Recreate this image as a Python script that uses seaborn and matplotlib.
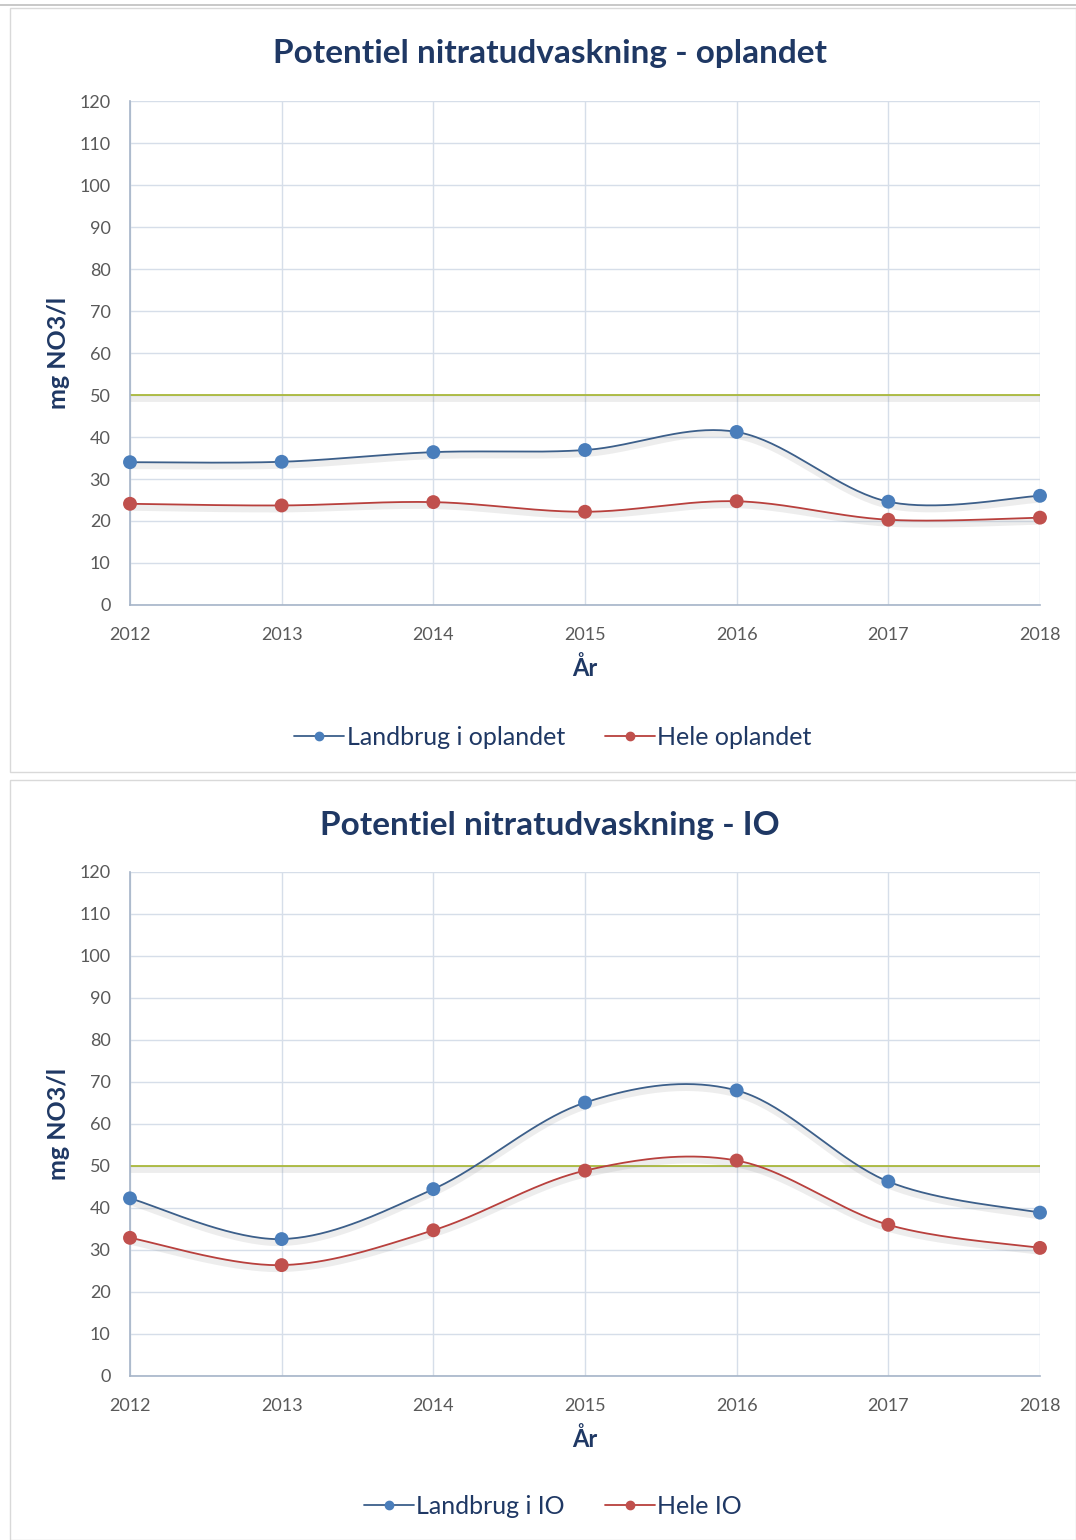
import numpy as np
import pandas as pd
import seaborn as sns
from matplotlib import pyplot as plt
from matplotlib import patheffects as pe
from matplotlib.lines import Line2D
from matplotlib.patches import Rectangle

years = [2012, 2013, 2014, 2015, 2016, 2017, 2018]

# top chart - oplandet
landbrug_opl = [34.0, 34.1, 36.4, 36.9, 41.2, 24.6, 26.0]
hele_opl = [24.1, 23.7, 24.5, 22.2, 24.7, 20.3, 20.8]

# bottom chart - IO
landbrug_io = [42.3, 32.6, 44.5, 65.1, 68.0, 46.3, 38.9]
hele_io = [32.9, 26.4, 34.7, 48.9, 51.3, 36.0, 30.5]

limit_value = 50
y_ticks = list(range(0, 121, 10))

BLUE_M = '#4A7EBB'
BLUE_L = '#3C5F8A'
RED_M = '#C0504D'
RED_L = '#B8403D'
NAVY = '#1F3864'
GRID = '#D6DEE9'
TICK = '#595959'
LIMIT = '#A9B83A'


def smooth(xs, ys, n=40):
    # excel-like bezier smoothing through the points
    px = np.array(xs, dtype=float)
    py = np.array(ys, dtype=float)
    ex = np.concatenate([[px[0]], px, [px[-1]]])
    ey = np.concatenate([[py[0]], py, [py[-1]]])
    out_x, out_y = [], []
    t = np.linspace(0, 1, n)
    for i in range(len(px) - 1):
        p0 = np.array([ex[i + 1], ey[i + 1]])
        p3 = np.array([ex[i + 2], ey[i + 2]])
        c1 = p0 + (p3 - np.array([ex[i], ey[i]])) / 6
        c2 = p3 - (np.array([ex[i + 3], ey[i + 3]]) - p0) / 6
        b = ((1 - t) ** 3)[:, None] * p0 + (3 * (1 - t) ** 2 * t)[:, None] * c1 \
            + (3 * (1 - t) * t ** 2)[:, None] * c2 + (t ** 3)[:, None] * p3
        out_x.extend(b[:, 0])
        out_y.extend(b[:, 1])
    return pd.DataFrame({'x': out_x, 'y': out_y})


def glow():
    return [pe.SimpleLineShadow(offset=(0, -2.5), shadow_color='#8a8a8a', alpha=0.15, linewidth=5),
            pe.Normal()]


sns.set_style("white")
plt.rcParams['font.family'] = ['Lato', 'DejaVu Sans']

fig = plt.figure(figsize=(10.76, 15.4), dpi=100)

# spreadsheet / chart area frames
fig.add_artist(Rectangle((10 / 1076, 1 - 772 / 1540), 1066 / 1076, 764 / 1540,
                         transform=fig.transFigure, fill=False, edgecolor='#D9D9D9', lw=1))
fig.add_artist(Rectangle((10 / 1076, 0), 1066 / 1076, 760 / 1540,
                         transform=fig.transFigure, fill=False, edgecolor='#D9D9D9', lw=1))
fig.add_artist(Line2D([0, 1], [1 - 5 / 1540] * 2, transform=fig.transFigure, color='#BFBFBF', lw=1.2))

panels = [
    ('Potentiel nitratudvaskning - oplandet', landbrug_opl, hele_opl,
     'Landbrug i oplandet', 'Hele oplandet', 101, 53, 737),
    ('Potentiel nitratudvaskning - IO', landbrug_io, hele_io,
     'Landbrug i IO', 'Hele IO', 872, 825, 1506),
]

for title, blue_vals, red_vals, blue_name, red_name, top_px, title_px, leg_px in panels:
    ax = fig.add_axes([130 / 1076, 1 - (top_px + 504) / 1540, 910 / 1076, 504 / 1540])

    ax.axhline(limit_value, color=LIMIT, lw=1.3, zorder=2, path_effects=glow())

    for vals, mcol, lcol in [(blue_vals, BLUE_M, BLUE_L), (red_vals, RED_M, RED_L)]:
        curve = smooth(years, vals)
        sns.lineplot(data=curve, x='x', y='y', ax=ax, color=lcol, lw=1.3, sort=False,
                     zorder=3, path_effects=glow())
        pts = pd.DataFrame({'year': years, 'val': vals})
        sns.scatterplot(data=pts, x='year', y='val', ax=ax, color=mcol, s=100,
                        edgecolor='none', zorder=4, clip_on=False)

    ax.set_xlim(2012, 2018)
    ax.set_ylim(0, 120)
    ax.set_xticks(years)
    ax.set_yticks(y_ticks)
    ax.grid(True, color=GRID, lw=1)
    ax.set_axisbelow(True)
    for side in ['top', 'right']:
        ax.spines[side].set_visible(False)
    for side in ['left', 'bottom']:
        ax.spines[side].set_color('#A5B4C8')
        ax.spines[side].set_linewidth(1.2)
    ax.tick_params(axis='both', length=0, colors=TICK, labelsize=13)
    ax.tick_params(axis='x', pad=16)
    ax.tick_params(axis='y', pad=14)
    ax.set_xlabel('År', fontsize=17, fontweight='bold', color=NAVY, labelpad=9)
    ax.set_ylabel('mg NO3/l', fontsize=18, fontweight='bold', color=NAVY, labelpad=7)

    fig.text(550 / 1076, 1 - title_px / 1540, title, ha='center', va='center',
             fontsize=24, fontweight='bold', color=NAVY)

    handles = [Line2D([], [], color=BLUE_L, marker='o', markerfacecolor=BLUE_M,
                      markeredgecolor=BLUE_M, markersize=6, lw=1.3),
               Line2D([], [], color=RED_L, marker='o', markerfacecolor=RED_M,
                      markeredgecolor=RED_M, markersize=6, lw=1.3)]
    fig.legend(handles, [blue_name, red_name], loc='center', ncol=2,
               bbox_to_anchor=(553 / 1076, 1 - leg_px / 1540), frameon=False,
               fontsize=18, labelcolor=NAVY, handlelength=2.0, handletextpad=0.1,
               columnspacing=1.6)

plt.savefig('out.png', dpi=100)
